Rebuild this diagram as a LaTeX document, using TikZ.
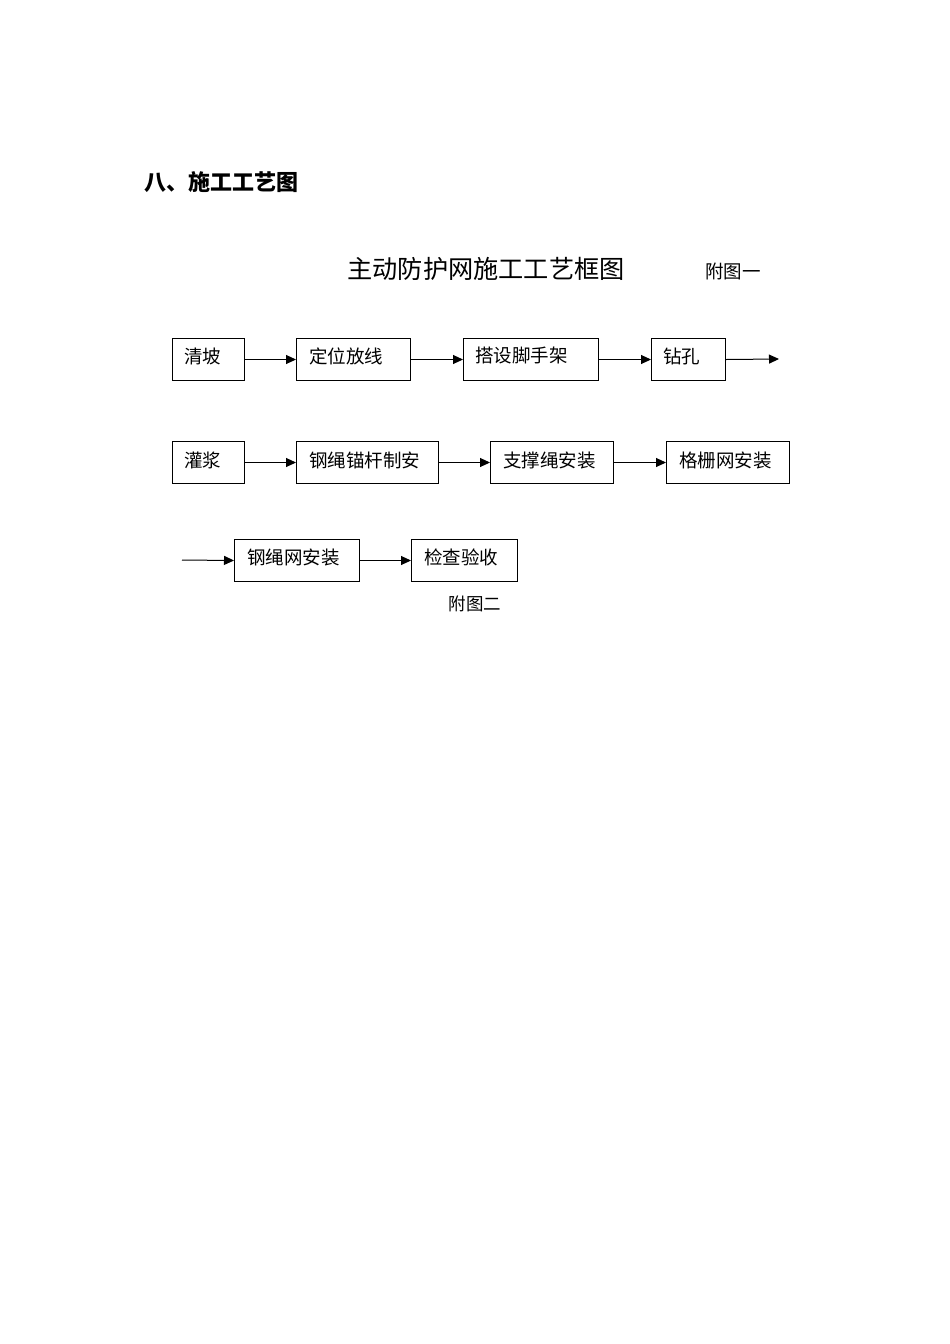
\documentclass[tikz,border=0pt]{standalone}
\usepackage{fontspec}
\setmainfont{Noto Sans CJK SC}
\usetikzlibrary{arrows.meta}
\begin{document}
\begin{tikzpicture}[x=1pt,y=-1pt,
  stepbox/.style={draw,line width=1pt,minimum height=42pt,inner sep=0pt,anchor=north west,text depth=0pt},
  boxtext/.style={font=\fontsize{18.5}{18.5}\selectfont,anchor=west,inner sep=0pt},
  flow/.style={line width=1pt,-{Triangle[length=10pt,width=9pt]}}
]
\useasboundingbox (0,0) rectangle (950,1344);
\fill[white] (0,0) rectangle (950,1344);
% heading
\node[anchor=west,inner sep=0pt,font=\fontsize{22}{22}\selectfont\bfseries] (head) at (144,182) {八、施工工艺图};
\node[inner sep=0pt,font=\fontsize{25.2}{25.2}\selectfont] (title) at (486,269) {主动防护网施工工艺框图};
\node[anchor=west,inner sep=0pt,font=\fontsize{18.5}{18.5}\selectfont] (fig1) at (705,271) {附图一};
% row 1
\node[stepbox,minimum width=72pt] (a1) at (172,338) {};
\node[boxtext] at (184,356) {清坡};
\node[stepbox,minimum width=114pt] (a2) at (296,338) {};
\node[boxtext] at (309,356) {定位放线};
\node[stepbox,minimum width=135pt] (a3) at (463,338) {};
\node[boxtext] at (475,356) {搭设脚手架};
\node[stepbox,minimum width=74pt] (a4) at (651,338) {};
\node[boxtext] at (663,356) {钻孔};
\coordinate (a5) at (779,359);
\draw[flow] (a1.east) -- (a2.west);
\draw[flow] (a2.east) -- (a3.west);
\draw[flow] (a3.east) -- (a4.west);
\draw[flow] (a4.east) -- (a5);
% row 2
\node[stepbox,minimum width=72pt] (b1) at (172,441) {};
\node[boxtext] at (184,460) {灌浆};
\node[stepbox,minimum width=142pt] (b2) at (296,441) {};
\node[boxtext] at (309,460) {钢绳锚杆制安};
\node[stepbox,minimum width=123pt] (b3) at (490,441) {};
\node[boxtext] at (503,460) {支撑绳安装};
\node[stepbox,minimum width=123pt] (b4) at (666,441) {};
\node[boxtext] at (679,460) {格栅网安装};
\draw[flow] (b1.east) -- (b2.west);
\draw[flow] (b2.east) -- (b3.west);
\draw[flow] (b3.east) -- (b4.west);
% row 3
\coordinate (c0) at (182,560);
\node[stepbox,minimum width=125pt] (c1) at (234,539) {};
\node[boxtext] at (247,557) {钢绳网安装};
\node[stepbox,minimum width=106pt] (c2) at (411,539) {};
\node[boxtext] at (424,557) {检查验收};
\draw[flow] (c0) -- (c1.west);
\draw[flow] (c1.east) -- (c2.west);
\node[inner sep=0pt,font=\fontsize{17.5}{17.5}\selectfont] (fig2) at (475,604) {附图二};
\end{tikzpicture}
\end{document}
